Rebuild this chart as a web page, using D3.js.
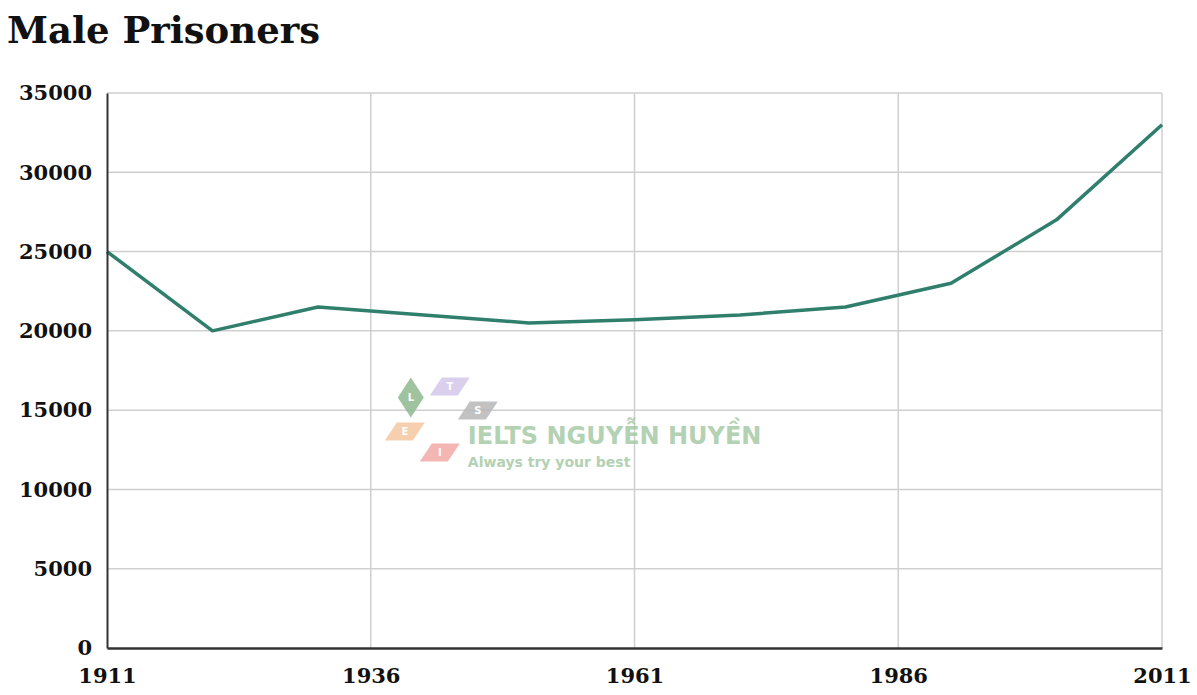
<!DOCTYPE html>
<html>
<head>
<meta charset="utf-8">
<script src="https://cdn.jsdelivr.net/npm/d3@7"></script>
<style>
  body { margin: 0; background: #fff; }
  svg { display: block; }
</style>
</head>
<body>
<div id="chart"></div>
<script>
// Données
const years = [1911, 1921, 1931, 1941, 1951, 1961, 1971, 1981, 1991, 2001, 2011];
const prisoners = [25000, 20000, 21500, 21000, 20500, 20700, 21000, 21500, 23000, 27000, 33000];
const xTicks = [1911, 1936, 1961, 1986, 2011];
const yTicks = [0, 5000, 10000, 15000, 20000, 25000, 30000, 35000];

const W = 1197, H = 695;
const margin = { top: 93, right: 35, bottom: 47, left: 107 };
const width = W - margin.left - margin.right,
      height = H - margin.top - margin.bottom;
const font = "Georgia, 'DejaVu Serif', serif";

const svg = d3.select("#chart").append("svg")
    .attr("width", W)
    .attr("height", H);

// Titre
svg.append("text")
    .attr("x", 7)
    .attr("y", 43)
    .style("font-family", font)
    .style("font-weight", "bold")
    .style("font-size", "37px")
    .attr("fill", "#111")
    .text("Male Prisoners");

const g = svg.append("g")
    .attr("transform", `translate(${margin.left},${margin.top})`);

const x = d3.scaleLinear().domain([1911, 2011]).range([0, width]);
const y = d3.scaleLinear().domain([0, 35000]).range([height, 0]);

// Grille
g.append("g")
    .selectAll("line")
    .data(yTicks.filter(d => d > 0))
    .join("line")
    .attr("x1", 0).attr("x2", width)
    .attr("y1", d => y(d)).attr("y2", d => y(d))
    .attr("stroke", "#cfcfcf").attr("stroke-width", 1.5);

g.append("g")
    .selectAll("line")
    .data(xTicks.filter(d => d > 1911))
    .join("line")
    .attr("x1", d => x(d)).attr("x2", d => x(d))
    .attr("y1", 0).attr("y2", height)
    .attr("stroke", "#cfcfcf").attr("stroke-width", 1.5);

// Filigrane
const wm = g.append("g")
    .attr("transform", `translate(${x(1939.8)},${y(15800)})`)
    .attr("opacity", 0.85);
const shapes = [
    { dx: 0, dy: 0, c: "#8fb98f", t: "L", diamond: true },
    { dx: 39, dy: -11, c: "#d4c8ec", t: "T" },
    { dx: 67, dy: 13, c: "#b8b8b8", t: "S" },
    { dx: -6, dy: 34, c: "#f5c7a0", t: "E" },
    { dx: 29, dy: 55, c: "#f2aaa5", t: "I" }
];
shapes.forEach(s => {
    const p = s.diamond
        ? `M${s.dx},${s.dy - 20} L${s.dx + 13},${s.dy} L${s.dx},${s.dy + 20} L${s.dx - 13},${s.dy} Z`
        : `M${s.dx - 20},${s.dy + 9} L${s.dx - 8},${s.dy - 9} L${s.dx + 20},${s.dy - 9} L${s.dx + 8},${s.dy + 9} Z`;
    wm.append("path").attr("d", p).attr("fill", s.c);
    wm.append("text")
        .attr("x", s.dx)
        .attr("y", s.dy + 4)
        .attr("text-anchor", "middle")
        .attr("fill", "#fff")
        .style("font-family", "'DejaVu Sans', sans-serif")
        .style("font-size", "10px")
        .style("font-weight", "bold")
        .text(s.t);
});
wm.append("text")
    .attr("x", 57).attr("y", 47)
    .attr("fill", "#a6c9a6")
    .style("font-family", "'DejaVu Sans', sans-serif")
    .style("font-weight", "bold")
    .style("font-size", "24px")
    .text("IELTS NGUYỄN HUYỀN");
wm.append("text")
    .attr("x", 57).attr("y", 70)
    .attr("fill", "#a6c9a6")
    .style("font-family", "'DejaVu Sans', sans-serif")
    .style("font-weight", "bold")
    .style("font-size", "14px")
    .text("Always try your best");

// Ligne
const line = d3.line()
    .x((d, i) => x(years[i]))
    .y(d => y(d));

g.append("path")
    .datum(prisoners)
    .attr("fill", "none")
    .attr("stroke", "#2f7f6c")
    .attr("stroke-width", 3.5)
    .attr("stroke-linejoin", "round")
    .attr("d", line);

// Axes
const xAxis = g.append("g")
    .attr("transform", `translate(0,${height})`)
    .call(d3.axisBottom(x).tickValues(xTicks).tickFormat(d3.format("d")).tickSize(0).tickPadding(20));
xAxis.select(".domain").attr("stroke", "#333").attr("stroke-width", 2.5);

const yAxis = g.append("g")
    .call(d3.axisLeft(y).tickValues(yTicks).tickFormat(d3.format("d")).tickSize(0).tickPadding(15));
yAxis.select(".domain").attr("stroke", "#333").attr("stroke-width", 2);

g.selectAll(".tick text")
    .style("font-family", font)
    .style("font-weight", "bold")
    .style("font-size", "21px")
    .attr("fill", "#111");
</script>
</body>
</html>
